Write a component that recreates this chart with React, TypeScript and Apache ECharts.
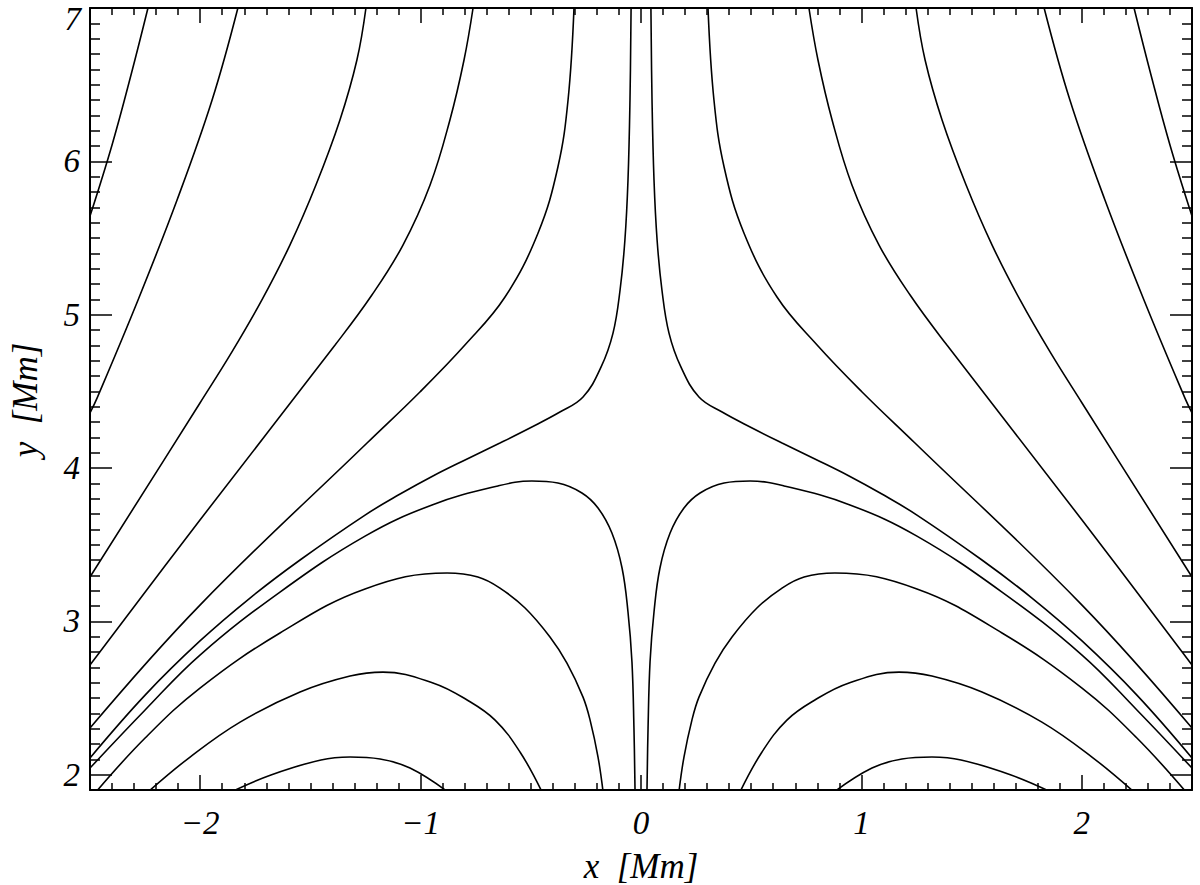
import React, { useEffect, useRef } from 'react';
import * as echarts from 'echarts';

const X_MIN = -2.5;
const X_MAX = 2.5;
const Y_MIN = 1.9;
const Y_MAX = 7.0;

const xTickLabels: Record<string, string> = { '-2': '−2', '-1': '−1', '0': '0', '1': '1', '2': '2' };
const yTickLabels: Record<string, string> = { '2': '2', '3': '3', '4': '4', '5': '5', '6': '6' };
const yTopLabel = '7';

// Field lines of the left half, [x, y] in Mm.
// The right half of the figure is their mirror image in x = 0.
const openLine1 = [[-2.237, 7.0], [-2.314, 6.563], [-2.4, 6.107], [-2.5, 5.643]];
const openLine2 = [[-1.829, 7.0], [-1.946, 6.4], [-2.105, 5.748], [-2.282, 5.096], [-2.468, 4.456], [-2.5, 4.359]];
const openLine3 = [[-1.248, 7.0], [-1.289, 6.661], [-1.366, 6.27], [-1.475, 5.846], [-1.593, 5.454], [-1.72, 5.096], [-1.856, 4.757], [-2.001, 4.424], [-2.5, 3.289]];
const openLine4 = [[-0.762, 7.0], [-0.803, 6.661], [-0.867, 6.27], [-0.957, 5.846], [-1.08, 5.454], [-1.221, 5.128], [-1.388, 4.802], [-2.001, 3.661], [-2.5, 2.715]];
const openLine5 = [[-0.304, 7.0], [-0.331, 6.4], [-0.377, 5.963], [-0.467, 5.533], [-0.617, 5.115], [-0.799, 4.802], [-1.003, 4.496], [-1.243, 4.163], [-2.001, 3.106], [-2.5, 2.304]];
const openLine6 = [[-0.045, 7.0], [-0.05, 6.4], [-0.059, 5.878], [-0.073, 5.487], [-0.095, 5.161], [-0.127, 4.88], [-0.181, 4.659], [-0.263, 4.463], [-0.368, 4.365], [-0.504, 4.261], [-0.64, 4.163], [-0.789, 4.059], [-0.944, 3.948], [-1.093, 3.83], [-1.252, 3.693], [-1.547, 3.4], [-1.774, 3.152], [-2.001, 2.872], [-2.25, 2.519], [-2.5, 2.109]];
const loop1 = [[-2.5, 2.043], [-2.25, 2.422], [-2.001, 2.78], [-1.638, 3.191], [-1.252, 3.556], [-0.948, 3.759], [-0.649, 3.883], [-0.495, 3.915], [-0.377, 3.902], [-0.268, 3.837], [-0.195, 3.739], [-0.132, 3.576], [-0.086, 3.348], [-0.059, 3.061], [-0.041, 2.735], [-0.032, 2.304], [-0.027, 1.887]];
const loop2 = [[-2.473, 1.887], [-2.25, 2.239], [-2.001, 2.565], [-1.638, 2.924], [-1.252, 3.211], [-0.88, 3.315], [-0.74, 3.289], [-0.64, 3.217], [-0.526, 3.087], [-0.413, 2.898], [-0.336, 2.728], [-0.263, 2.506], [-0.231, 2.356], [-0.195, 2.115], [-0.172, 1.887]];
const loop3 = [[-2.237, 1.887], [-2.046, 2.115], [-1.819, 2.343], [-1.547, 2.539], [-1.32, 2.643], [-1.171, 2.669], [-0.944, 2.598], [-0.789, 2.487], [-0.662, 2.356], [-0.549, 2.148], [-0.449, 1.887]];
const loop4 = [[-1.86, 1.887], [-1.679, 1.998], [-1.452, 2.096], [-1.32, 2.115], [-1.184, 2.102], [-1.048, 2.043], [-0.876, 1.887]];

const leftLines = [openLine1, openLine2, openLine3, openLine4, openLine5, openLine6, loop1, loop2, loop3, loop4];

const FONT = '"Liberation Serif", "DejaVu Serif", serif';

export default function App() {
  const ref = useRef<HTMLDivElement>(null);
  useEffect(() => {
    if (!ref.current) return;
    const chart = echarts.init(ref.current, undefined, { renderer: 'svg' });
    const lines: number[][][] = [];
    leftLines.forEach((l) => {
      lines.push(l);
      lines.push(l.map(([x, y]) => [-x, y]));
    });
    const series = lines.map((data) => ({
      type: 'line',
      data,
      smooth: 0.4,
      showSymbol: false,
      symbol: 'none',
      silent: true,
      clip: true,
      lineStyle: { color: '#000', width: 1.6 },
      xAxisIndex: 0,
      yAxisIndex: 0,
    }));
    const xBase = {
      type: 'value',
      min: X_MIN,
      max: X_MAX,
      axisLine: { show: true, onZero: false, lineStyle: { color: '#000', width: 2 } },
      axisTick: { show: true, inside: true, length: 15, lineStyle: { color: '#000', width: 1.5 } },
      minorTick: { show: true, splitNumber: 10, length: 7, lineStyle: { color: '#000', width: 1.5 } },
      splitLine: { show: false },
      minorSplitLine: { show: false },
    };
    const yBase = {
      type: 'value',
      min: Y_MIN,
      max: Y_MAX,
      axisLine: { show: true, onZero: false, lineStyle: { color: '#000', width: 2 } },
      axisTick: { show: true, inside: true, length: 22, lineStyle: { color: '#000', width: 1.5 } },
      minorTick: { show: true, splitNumber: 10, length: 10, lineStyle: { color: '#000', width: 1.5 } },
      splitLine: { show: false },
      minorSplitLine: { show: false },
    };
    const labelFont = { color: '#000', fontSize: 33, fontStyle: 'italic', fontFamily: FONT };
    chart.setOption({
      animation: false,
      backgroundColor: '#fff',
      grid: { left: 90, top: 8, width: 1102, height: 782, containLabel: false },
      xAxis: [
        {
          ...xBase,
          position: 'bottom',
          axisLabel: {
            show: true,
            margin: 16,
            ...labelFont,
            showMinLabel: false,
            showMaxLabel: false,
            formatter: (v: number) => xTickLabels[String(v)] ?? '',
          },
        },
        { ...xBase, position: 'top', axisLabel: { show: false } },
      ],
      yAxis: [
        {
          ...yBase,
          position: 'left',
          axisLabel: {
            show: true,
            margin: 10,
            ...labelFont,
            showMinLabel: false,
            showMaxLabel: false,
            formatter: (v: number) => yTickLabels[String(v)] ?? '',
          },
        },
        { ...yBase, position: 'right', axisLabel: { show: false } },
      ],
      graphic: [
        {
          type: 'text',
          x: 81,
          y: 19,
          style: {
            text: yTopLabel,
            fontSize: 33,
            fontStyle: 'italic',
            fontFamily: FONT,
            fill: '#000',
            align: 'right',
            verticalAlign: 'middle',
          },
        },
        {
          type: 'text',
          x: 641,
          y: 866,
          style: {
            text: 'x  [Mm]',
            fontSize: 35,
            fontStyle: 'italic',
            fontFamily: FONT,
            fill: '#000',
            align: 'center',
            verticalAlign: 'middle',
          },
        },
        {
          type: 'text',
          x: 25,
          y: 400,
          rotation: Math.PI / 2,
          style: {
            text: 'y  [Mm]',
            fontSize: 35,
            fontStyle: 'italic',
            fontFamily: FONT,
            fill: '#000',
            align: 'center',
            verticalAlign: 'middle',
          },
        },
      ],
      series,
    });
    return () => chart.dispose();
  }, []);
  return <div ref={ref} style={{ position: 'fixed', left: 0, top: 0, width: 1200, height: 885 }} />;
}
